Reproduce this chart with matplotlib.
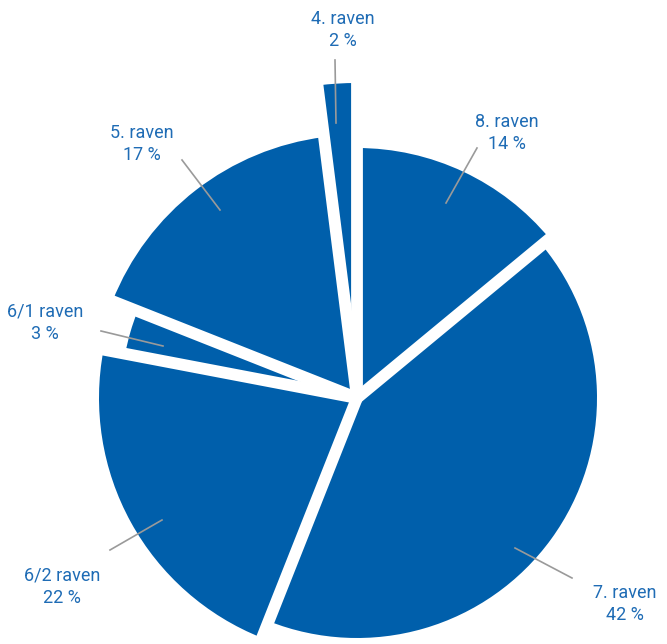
import matplotlib.pyplot as plt
from matplotlib.patches import Wedge
import numpy as np

# slice data, clockwise from 12 o'clock
labels = ["8. raven", "7. raven", "6/2 raven", "6/1 raven", "5. raven", "4. raven"]
shares = [14, 42, 22, 3, 17, 2]

# drawing style (pixels)
radii = [250, 240, 258, 236, 263, 315]
center = (357, 246)
label_pos = [(507, 511), (625, 40), (62, 57), (45, 321), (142, 500), (343, 614)]
leader = [((477, 496), (446, 441)), ((572, 66), (515, 96)), ((110, 94), (162, 124)),
          ((101, 313), (163, 298)), ((182, 484), (220, 434)), ((335, 584), (336, 521))]

blue = "#005fab"
text_blue = "#1f6cb5"

fig = plt.figure(figsize=(6.67, 6.44), dpi=100)
ax = fig.add_axes([0, 0, 1, 1])
ax.set_xlim(0, 667)
ax.set_ylim(0, 644)
ax.axis("off")

start = 90.0
bounds = []
for lab, s, r in zip(labels, shares, radii):
    t2 = start
    t1 = start - s * 3.6
    ax.add_patch(Wedge(center, r, t1, t2, facecolor=blue, edgecolor="none"))
    bounds.append(t2)
    start = t1

# white separators between slices
for a in bounds:
    rad = np.deg2rad(a)
    ax.plot([center[0], center[0] + 340 * np.cos(rad)],
            [center[1], center[1] + 340 * np.sin(rad)],
            color="white", linewidth=8.5, solid_capstyle="round", zorder=3)

for lab, s, (x, y), (p0, p1) in zip(labels, shares, label_pos, leader):
    ax.plot([p0[0], p1[0]], [p0[1], p1[1]], color="#9a9a9a", linewidth=1.2, zorder=4)
    ax.text(x, y, f"{lab}\n{s} %", ha="center", va="center", fontsize=13,
            family="Roboto", color=text_blue, linespacing=1.3)

fig.savefig("out.png", dpi=100)
